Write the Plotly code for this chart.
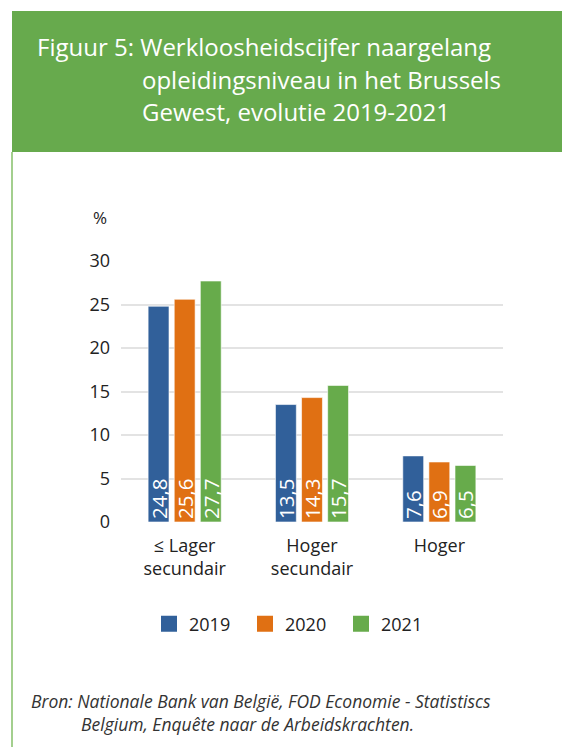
import plotly.graph_objects as go

categories = ["≤ Lager<br>secundair", "Hoger<br>secundair", "Hoger"]
years = ["2019", "2020", "2021"]
v2019 = [24.8, 13.5, 7.6]
v2020 = [25.6, 14.3, 6.9]
v2021 = [27.7, 15.7, 6.5]
colors = ["#31609A", "#E07013", "#67AB4B"]
yticks = [0, 5, 10, 15, 20, 25, 30]

W, H = 570, 747
OFF = 8  # page body margin
FONT = "Open Sans"
def px(x):
    return (x - OFF) / W
def py(y):
    return 1 - (y - OFF) / H

fig = go.Figure()
for name, vals, col in zip(years, [v2019, v2020, v2021], colors):
    fig.add_trace(go.Bar(
        x=categories, y=vals, name=name, showlegend=False,
        marker=dict(color=col, line=dict(color="rgba(255,255,255,0.6)", width=1)),
        text=[f"{v:.1f}".replace(".", ",") for v in vals],
        textposition="inside", insidetextanchor="start", textangle=-90,
        textfont=dict(color="white", size=20.5, family=FONT),
        hoverinfo="skip",
    ))
# legend entries with larger square swatches
for name, col in zip(years, colors):
    fig.add_trace(go.Scatter(
        x=[None], y=[None], name=name, mode="markers",
        marker=dict(symbol="square", size=16, color=col),
        showlegend=True, hoverinfo="skip",
    ))

fig.update_layout(
    width=W, height=H,
    margin=dict(l=0, r=0, t=0, b=0, autoexpand=False),
    paper_bgcolor="white", plot_bgcolor="white",
    barmode="group", bargap=0.385, bargroupgap=0.2,
    uniformtext=dict(minsize=20.5, mode="show"),
    font=dict(family=FONT, color="#222222", size=18),
    xaxis=dict(domain=[px(121), px(503)], showline=False, ticks="",
               automargin=False, tickfont=dict(size=18),
               ticklabelstandoff=11),
    yaxis=dict(domain=[py(522), py(261)], range=[0, 30], tickvals=yticks,
               showgrid=True, gridcolor="#E3E3E3", gridwidth=1.5,
               automargin=False, zeroline=False, ticks="",
               tickfont=dict(size=18), ticklabelstandoff=10),
    legend=dict(orientation="h", x=px(293), xanchor="center", y=py(624),
                yanchor="middle", font=dict(size=18),
                entrywidth=51, entrywidthmode="pixels",
                itemsizing="trace", traceorder="normal"),
    showlegend=True,
)

# header band
fig.add_shape(type="rect", xref="paper", yref="paper",
              x0=px(12), x1=1.0, y0=py(152), y1=py(11),
              fillcolor="#67AA4D", line=dict(width=0), layer="below")
# left vertical line
fig.add_shape(type="line", xref="paper", yref="paper",
              x0=px(12), x1=px(12), y0=py(152), y1=0,
              line=dict(color="#A3CF8E", width=2))

title_font = dict(family=FONT, size=24, color="white")
fig.add_annotation(xref="paper", yref="paper", x=px(35), y=py(47),
                   xanchor="left", yanchor="middle", showarrow=False,
                   text="Figuur 5: Werkloosheidscijfer naargelang", font=title_font)
fig.add_annotation(xref="paper", yref="paper", x=px(140), y=py(80),
                   xanchor="left", yanchor="middle", showarrow=False,
                   text="opleidingsniveau in het Brussels", font=title_font)
fig.add_annotation(xref="paper", yref="paper", x=px(140), y=py(112),
                   xanchor="left", yanchor="middle", showarrow=False,
                   text="Gewest, evolutie 2019-2021", font=title_font)

fig.add_annotation(xref="paper", yref="paper", x=px(100), y=py(218),
                   xanchor="center", yanchor="middle", showarrow=False,
                   text="%", font=dict(size=17, color="#222222"))

src_font = dict(family=FONT, size=17.5, color="#333333")
indent = "\u00a0" * 11
fig.add_annotation(xref="paper", yref="paper", x=px(29), y=py(712.5),
                   xanchor="left", yanchor="middle", showarrow=False, align="left",
                   text=("<i>Bron: Nationale Bank van België, FOD Economie - Statistiscs"
                         "<br>" + indent + "Belgium, Enquête naar de Arbeidskrachten.</i>"),
                   font=src_font)

fig.write_html("out.html")
